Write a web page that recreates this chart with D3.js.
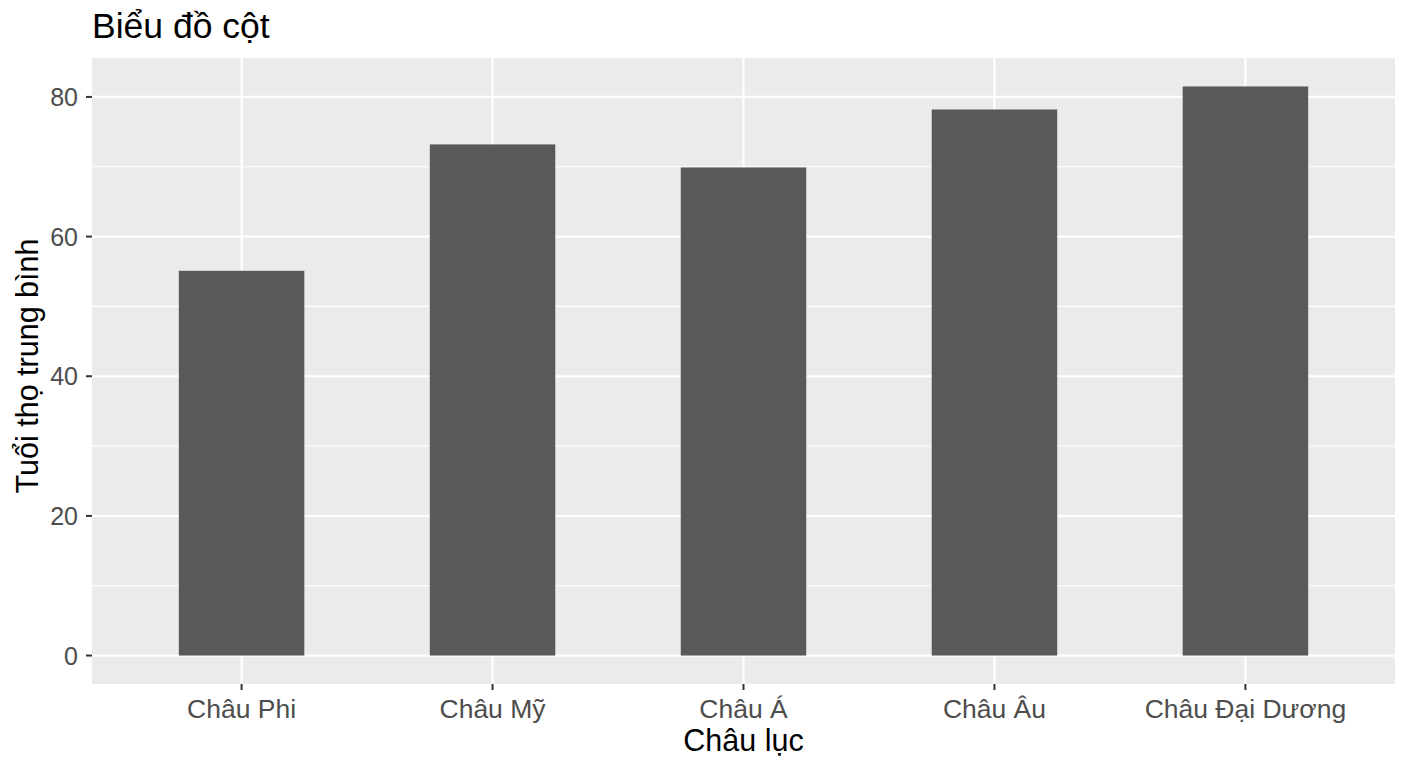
<!DOCTYPE html>
<html><head><meta charset="utf-8">
<script src="https://cdn.jsdelivr.net/npm/d3@7"></script>
<style>body{margin:0;background:#fff;} svg{display:block;font-family:"Liberation Sans",Arial,Helvetica,sans-serif;}</style>
</head><body>
<svg id="c" width="1408" height="768"></svg>
<script>
const categories = ["Châu Phi","Châu Mỹ","Châu Á","Châu Âu","Châu Đại Dương"];
const values = [55.1, 73.2, 69.9, 78.2, 81.5];
const yTicks = [0,20,40,60,80];
const yMinor = [10,30,50,70];
const title = "Biểu đồ cột";
const xTitle = "Châu lục";
const yTitle = "Tuổi thọ trung bình";

const svg = d3.select("#c");
const L=92, R=1395, T=58, B=684;
const maxV = d3.max(values);
const y = d3.scaleLinear().domain([-0.05*maxV, maxV*1.05]).range([B,T]);
// discrete x scale with ggplot-like 0.6 expansion on each side
const x = d3.scalePoint().domain(categories).range([L-1,R+1]).padding(0.6);
const step = x.step();
const cx = d => x(d);

svg.append("rect").attr("x",L).attr("y",T).attr("width",R-L).attr("height",B-T).attr("fill","#ebebeb");
const g = svg.append("g");
g.selectAll("line.minor").data(yMinor).join("line")
 .attr("x1",L).attr("x2",R).attr("y1",d=>y(d)).attr("y2",d=>y(d))
 .attr("stroke","#fff").attr("stroke-width",1.1);
g.selectAll("line.major").data(yTicks).join("line")
 .attr("x1",L).attr("x2",R).attr("y1",d=>y(d)).attr("y2",d=>y(d))
 .attr("stroke","#fff").attr("stroke-width",2.2);
g.selectAll("line.vmajor").data(categories).join("line")
 .attr("x1",d=>cx(d)).attr("x2",d=>cx(d)).attr("y1",T).attr("y2",B)
 .attr("stroke","#fff").attr("stroke-width",2.2);

const bw = step*0.5;
svg.selectAll("rect.bar").data(values).join("rect")
 .attr("x",(d,i)=>cx(categories[i])-bw/2).attr("width",bw)
 .attr("y",d=>y(d)).attr("height",d=>y(0)-y(d)).attr("fill","#595959");

// y axis
const ya = svg.append("g");
ya.selectAll("line").data(yTicks).join("line")
 .attr("x1",L-6).attr("x2",L).attr("y1",d=>y(d)).attr("y2",d=>y(d))
 .attr("stroke","#333").attr("stroke-width",2);
ya.selectAll("text").data(yTicks).join("text")
 .attr("x",L-14).attr("y",d=>y(d)).attr("dy","0.36em").attr("text-anchor","end")
 .attr("font-size",25).attr("fill","#4d4d4d").text(d=>d);
// x axis
const xa = svg.append("g");
xa.selectAll("line").data(categories).join("line")
 .attr("x1",d=>cx(d)).attr("x2",d=>cx(d)).attr("y1",B).attr("y2",B+6)
 .attr("stroke","#333").attr("stroke-width",2);
xa.selectAll("text").data(categories).join("text")
 .attr("x",d=>cx(d)).attr("y",718).attr("text-anchor","middle")
 .attr("font-size",26.5).attr("fill","#4d4d4d").text(d=>d);

svg.append("text").attr("x",(L+R)/2).attr("y",751).attr("text-anchor","middle")
 .attr("font-size",30.5).attr("fill","#000").text(xTitle);
svg.append("text").attr("transform",`translate(38,${(T+B)/2 - 5}) rotate(-90)`).attr("text-anchor","middle")
 .attr("font-size",30.5).attr("fill","#000").text(yTitle);
svg.append("text").attr("x",L).attr("y",38).attr("font-size",35.5).attr("fill","#000").text(title);
</script>
</body></html>
